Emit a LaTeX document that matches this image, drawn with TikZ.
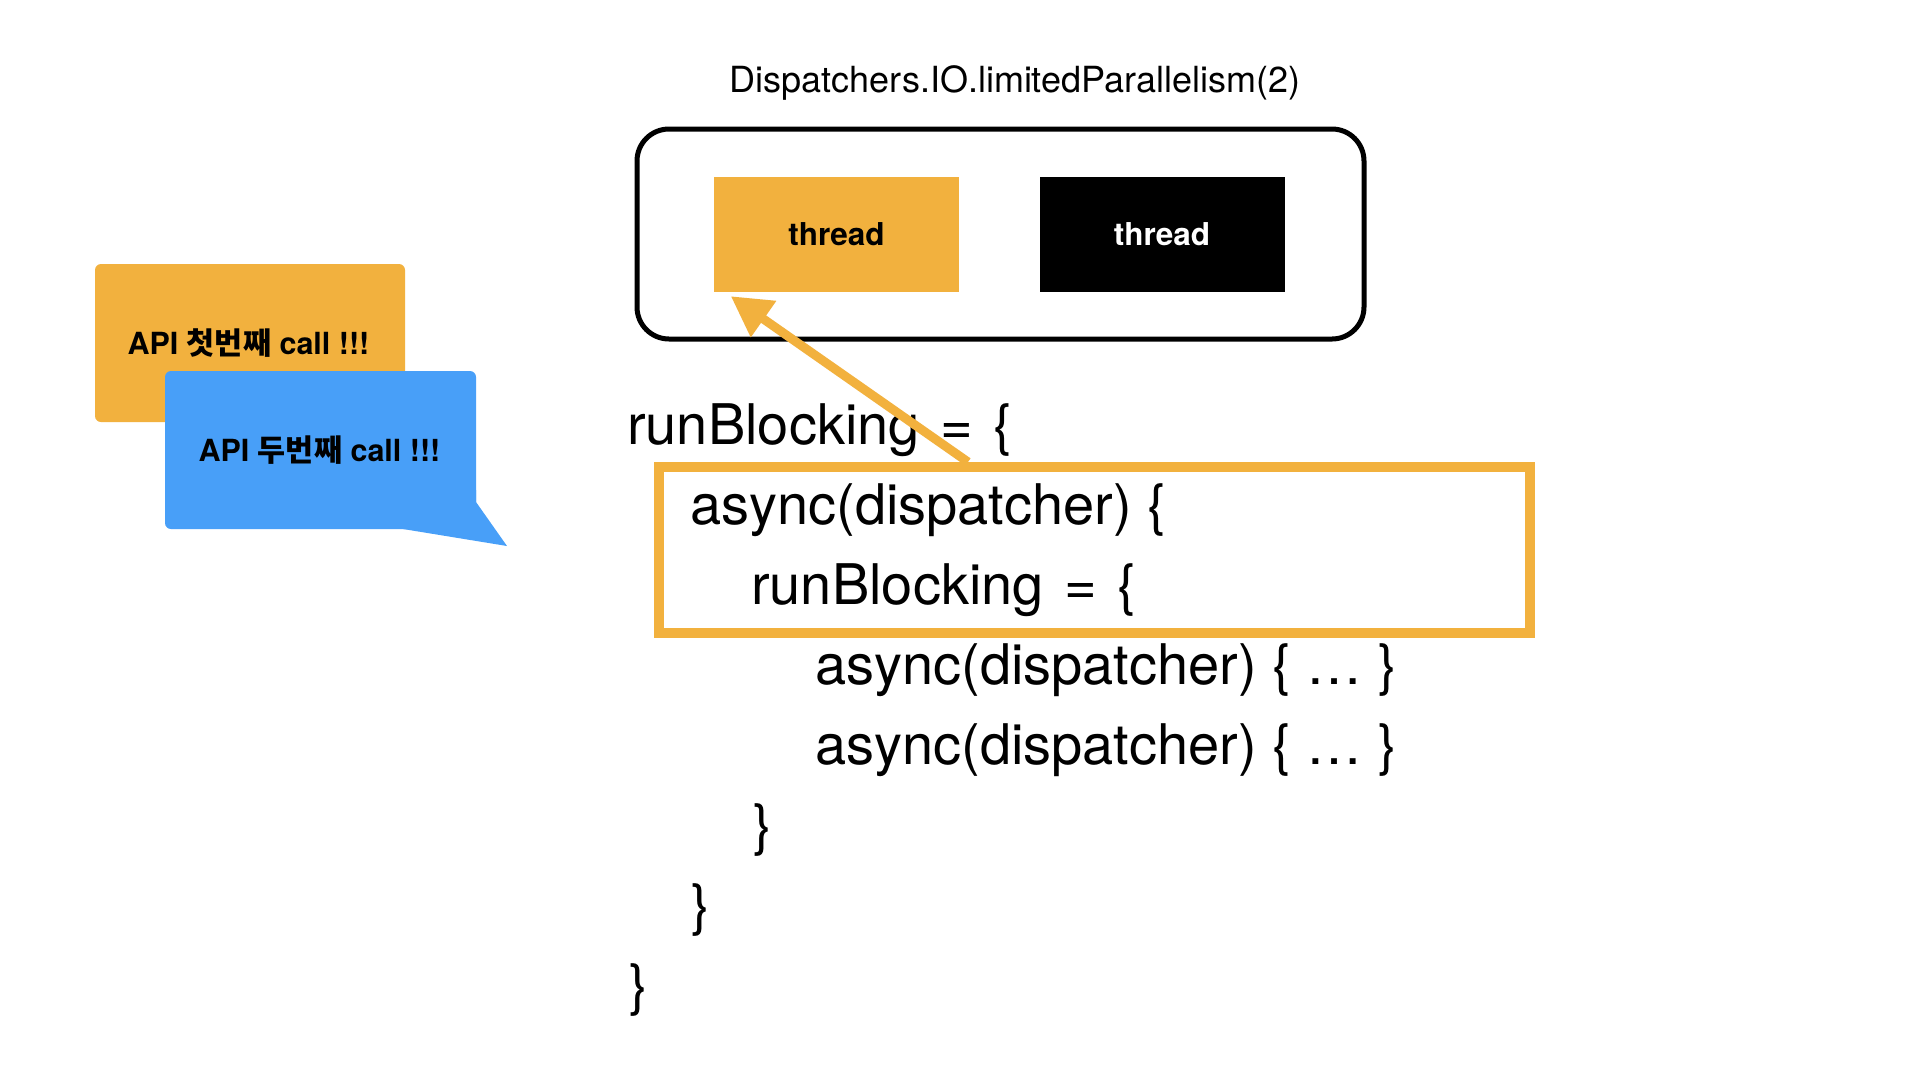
\documentclass[tikz,border=0pt]{standalone}
\usepackage{fontspec}
\setmainfont{TeX Gyre Heros}
\newfontfamily\krfont{Noto Sans CJK KR}
\usetikzlibrary{arrows.meta}
\definecolor{korange}{HTML}{F2B13E}
\definecolor{kblue}{HTML}{489FF8}
\newcommand{\eqsp}{\hspace{5pt}}
\begin{document}
\begin{tikzpicture}[x=1pt,y=-1pt,
  codeline/.style={anchor=base west,inner sep=0pt,font=\fontsize{56}{67}\selectfont},
  threadbox/.style={minimum width=245pt,minimum height=115pt,inner sep=0pt,font=\fontsize{31.5}{38}\selectfont\bfseries},
  bubbletext/.style={anchor=base,inner sep=0pt,font=\fontsize{30.5}{36}\selectfont\bfseries},
  arr/.style={draw=korange,line width=9pt,-{Triangle[length=40pt,width=42pt]},fill=korange}
]
\useasboundingbox[fill=white] (0,0) rectangle (1920,1080);

% speech bubbles
\fill[korange,rounded corners=6pt] (95,264) rectangle (405,422);
\node[bubbletext] (b1) at (248.5,354) {API {\krfont 첫번째} call !!!};
\fill[kblue,rounded corners=6pt] (165,371) rectangle (476,529);
\fill[kblue] (476,490) -- (476,502) -- (507,546) -- (403,529) -- (403,520) -- cycle;
\node[bubbletext] (b2) at (319.5,461) {API {\krfont 두번째} call !!!};

% title and thread pool
\node[anchor=base,inner sep=0pt,font=\fontsize{36}{43}\selectfont] (title) at (1015,92) {Dispatchers.IO.limitedParallelism(2)};
\node[draw,line width=5pt,rounded corners=32pt,minimum width=727pt,minimum height=210pt] (pool) at (1000.5,234) {};
\node[threadbox,fill=korange,text=black] (t1) at (836.5,234.5) {thread};
\node[threadbox,fill=black,text=white] (t2) at (1162,234.5) {thread};

% code
\node[codeline] (l1) at (627,444) {runBlocking \eqsp{}= \eqsp{}\{};
\node[codeline] (l2) at (690,524) {async(dispatcher) \{};
\node[codeline] (l3) at (751,604) {runBlocking \eqsp{}= \eqsp{}\{};
\node[codeline] (l4) at (815,684) {async(dispatcher) \{ … \}};
\node[codeline] (l5) at (815,764) {async(dispatcher) \{ … \}};
\node[codeline] (l6) at (753,844) {\}};
\node[codeline] (l7) at (691,924) {\}};
\node[codeline] (l8) at (629,1004) {\}};

% highlight
\node[draw=korange,line width=10pt,minimum width=871pt,minimum height=166pt,inner sep=0pt] (hl) at (1094.5,550) {};

% arrow
\coordinate (tail) at ([xshift=314pt]hl.north west);
\coordinate (tip) at ([xshift=17pt,yshift=-4pt]t1.south west);
\draw[arr] (tail) -- (tip);
\end{tikzpicture}
\end{document}
